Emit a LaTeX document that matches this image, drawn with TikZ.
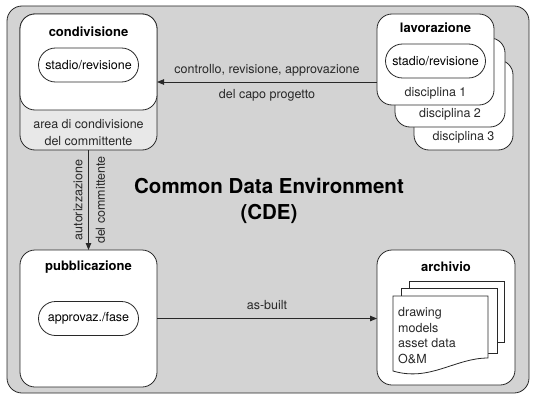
\documentclass[tikz,border=0pt]{standalone}
\usepackage{fontspec}
\setmainfont{TeX Gyre Heros}
\usetikzlibrary{positioning,arrows.meta,shapes.misc}

\definecolor{cdegrey}{RGB}{211,211,211}
\definecolor{areagrey}{RGB}{232,232,232}
\definecolor{linegrey}{RGB}{40,40,40}

\newcommand{\lblfont}{\fontsize{12.5}{17}\selectfont}
\newcommand{\ttlfont}{\bfseries\fontsize{13}{15}\selectfont}

\begin{document}
\begin{tikzpicture}[x=1pt, y=-1pt,
                    stage/.style={draw=linegrey, fill=white, line width=0.8pt, rounded corners=15pt, inner sep=0pt, outer sep=0pt},
                    pill/.style={draw=linegrey, fill=white, line width=0.8pt, rounded rectangle, minimum width=104pt, minimum height=34pt, inner sep=2pt, font=\lblfont},
                    ttl/.style={inner sep=0pt, font=\ttlfont},
                    lbl/.style={inner sep=0pt, font=\lblfont, text=linegrey},
                    sheet/.style={draw=linegrey, fill=white, line width=0.8pt},
                    flow/.style={-{Triangle[length=7pt, width=5.5pt]}, draw=linegrey, line width=0.8pt},
                ]
    \useasboundingbox (0,0) rectangle (537,401);
    \draw[draw=linegrey, fill=cdegrey, line width=0.8pt, rounded corners=15pt] (7,6) rectangle (529,393);

    % condivisione
    \node[stage, fill=areagrey, minimum width=137pt, minimum height=136pt] (condiv) at (88.5,82) {};
    \draw[stage] (condiv.north west) rectangle ([yshift=-96pt]condiv.north east);
    \node[ttl] (condivT) at ([yshift=-18pt]condiv.north) {condivisione};
    \node[pill] (condivS) at ([yshift=-51pt]condiv.north) {stadio/revisione};
    \node[lbl, align=center, font=\lblfont] (condivA) at ([yshift=17pt]condiv.south) {area di condivisione\\del committente};

    % lavorazione (pila di discipline)
    \node[stage, minimum width=99pt, minimum height=90pt] (disc3) at (463.5,105) {};
    \node[lbl] (disc3T) at ([yshift=13pt]disc3.south) {disciplina 3};
    \node[stage, minimum width=110pt, minimum height=89pt] (disc2) at (450,82.5) {};
    \node[lbl] (disc2T) at ([yshift=13pt]disc2.south) {disciplina 2};
    \node[stage, minimum width=117pt, minimum height=91pt] (lav) at (435.5,59.5) {};
    \node[lbl] (disc1T) at ([yshift=12pt]lav.south) {disciplina 1};
    \node[ttl] (lavT) at ([yshift=-14pt]lav.north) {lavorazione};
    \node[pill] (lavS) at ([yshift=-47pt]lav.north) {stadio/revisione};

    \draw[flow] (lav.west |- condiv.east) -- (condiv.east)
        node[lbl, midway, above=5pt] {controllo, revisione, approvazione}
        node[lbl, midway, below=7pt] {del capo progetto};

    % pubblicazione
    \node[stage, minimum width=137pt, minimum height=137pt] (pubb) at (88.5,318.5) {};
    \node[ttl] (pubbT) at ([yshift=-17pt]pubb.north) {pubblicazione};
    \node[pill] (pubbS) at (pubb.center) {approvaz./fase};

    \draw[flow] (condiv.south) -- coordinate[midway] (authmid) (pubb.north);
    \node[lbl, rotate=90] (authL) at ([xshift=-10.5pt]authmid) {autorizzazione};
    \node[lbl, rotate=90] (authR) at ([xshift=12pt]authmid) {del committente};

    % archivio
    \node[stage, minimum width=138pt, minimum height=135pt] (arch) at (446,317.5) {};
    \node[ttl] (archT) at ([yshift=-17pt]arch.north) {archivio};
    \draw[sheet] (409,281) rectangle (504,342);
    \draw[sheet] (401,288) rectangle (497,353);
    \draw[sheet] (393,296) -- (488,296) -- (488,358) .. controls (455,358) and (430,382) .. (393,371) -- cycle;
    \node[lbl, align=left, anchor=north west, font=\fontsize{12.5}{15.5}\selectfont] (archD) at (398,307.5) {drawing\\models\\asset data\\O\&M};

    \draw[flow] (pubb.east) -- (pubb.east -| arch.west)
        node[lbl, midway, above=8pt] {as-built};

    % titolo
    \node[inner sep=0pt, align=center, font=\bfseries\fontsize{20.5}{26}\selectfont] (cde) at (269,201) {Common Data Environment\\(CDE)};
\end{tikzpicture}
\end{document}
